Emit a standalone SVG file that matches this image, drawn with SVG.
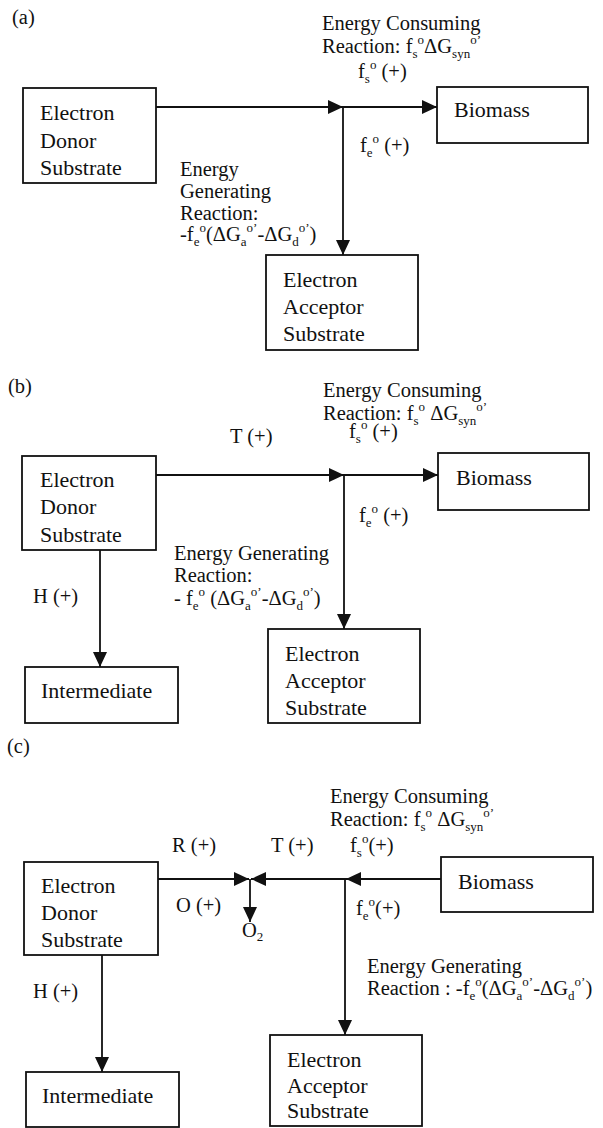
<svg xmlns="http://www.w3.org/2000/svg" width="603" height="1128" viewBox="0 0 603 1128">
<style>
text{font-family:"Liberation Serif","Times New Roman",serif;fill:#111}
.lb{font-size:22px}
.an{font-size:20.5px}
.s{font-size:13px}
.box{fill:#fff;stroke:#111;stroke-width:1.8}
.ln{stroke:#111;stroke-width:1.8;fill:none}
</style>
<defs>
<marker id="ah" markerUnits="userSpaceOnUse" markerWidth="16" markerHeight="15" refX="15" refY="7" orient="auto" viewBox="0 0 16 14">
<path d="M0,0 L15,7 L0,14 z" fill="#111"/>
</marker>
</defs>
<rect width="603" height="1128" fill="#fff"/>

<!-- connectors -->
<g id="connectors">
<!-- (a) -->
<line class="ln" x1="156" y1="107" x2="343" y2="107" marker-end="url(#ah)"/>
<line class="ln" x1="343" y1="107" x2="437" y2="107" marker-end="url(#ah)"/>
<line class="ln" x1="343" y1="107" x2="343" y2="255" marker-end="url(#ah)"/>
<!-- (b) -->
<line class="ln" x1="156" y1="475" x2="344" y2="475" marker-end="url(#ah)"/>
<line class="ln" x1="344" y1="475" x2="438" y2="475" marker-end="url(#ah)"/>
<line class="ln" x1="344" y1="475" x2="344" y2="629" marker-end="url(#ah)"/>
<line class="ln" x1="100" y1="550" x2="100" y2="667" marker-end="url(#ah)"/>
<!-- (c) -->
<line class="ln" x1="158" y1="879" x2="249" y2="879" marker-end="url(#ah)"/>
<line class="ln" x1="441" y1="879" x2="346" y2="879" marker-end="url(#ah)"/>
<line class="ln" x1="346" y1="879" x2="251" y2="879" marker-end="url(#ah)"/>
<line class="ln" x1="250" y1="879" x2="250" y2="922" marker-end="url(#ah)"/>
<line class="ln" x1="345" y1="879" x2="345" y2="1035" marker-end="url(#ah)"/>
<line class="ln" x1="102" y1="955" x2="102" y2="1072" marker-end="url(#ah)"/>
</g>

<!-- panel labels -->
<text class="an" x="12" y="24">(a)</text>
<text class="an" x="8" y="393">(b)</text>
<text class="an" x="7" y="753">(c)</text>

<!-- (a) nodes -->
<g id="a-donor">
<rect class="box" x="23" y="88" width="133" height="95"/>
<text class="lb" x="40" y="120">Electron</text>
<text class="lb" x="40" y="148">Donor</text>
<text class="lb" x="40" y="175">Substrate</text>
</g>
<g id="a-biomass">
<rect class="box" x="437" y="87" width="151" height="56"/>
<text class="lb" x="454" y="117">Biomass</text>
</g>
<g id="a-acceptor">
<rect class="box" x="266" y="255" width="152" height="95"/>
<text class="lb" x="283" y="287">Electron</text>
<text class="lb" x="283" y="314">Acceptor</text>
<text class="lb" x="283" y="341">Substrate</text>
</g>
<g id="a-labels">
<text class="an" x="322" y="30">Energy Consuming</text>
<text class="an" x="322" y="53">Reaction: f<tspan class="s" dy="5">s</tspan><tspan class="s" dy="-14">o</tspan><tspan dy="9">ΔG</tspan><tspan class="s" dy="5">syn</tspan><tspan class="s" dy="-14">o’</tspan></text>
<text class="an" x="358" y="78">f<tspan class="s" dy="5">s</tspan><tspan class="s" dy="-14">o</tspan><tspan dy="9"> (+)</tspan></text>
<text class="an" x="360" y="152">f<tspan class="s" dy="5">e</tspan><tspan class="s" dy="-14">o</tspan><tspan dy="9"> (+)</tspan></text>
<text class="an" x="180" y="176">Energy</text>
<text class="an" x="180" y="198">Generating</text>
<text class="an" x="180" y="220">Reaction:</text>
<text class="an" x="180" y="241">-f<tspan class="s" dy="5">e</tspan><tspan class="s" dy="-14">o</tspan><tspan dy="9">(ΔG</tspan><tspan class="s" dy="5">a</tspan><tspan class="s" dy="-14">o’</tspan><tspan dy="9">-ΔG</tspan><tspan class="s" dy="5">d</tspan><tspan class="s" dy="-14">o’</tspan><tspan dy="9">)</tspan></text>
</g>

<!-- (b) nodes -->
<g id="b-donor">
<rect class="box" x="22" y="456" width="134" height="94"/>
<text class="lb" x="40" y="487">Electron</text>
<text class="lb" x="40" y="514">Donor</text>
<text class="lb" x="40" y="542">Substrate</text>
</g>
<g id="b-biomass">
<rect class="box" x="438" y="453" width="151" height="57"/>
<text class="lb" x="456" y="485">Biomass</text>
</g>
<g id="b-acceptor">
<rect class="box" x="268" y="629" width="152" height="94"/>
<text class="lb" x="285" y="661">Electron</text>
<text class="lb" x="285" y="688">Acceptor</text>
<text class="lb" x="285" y="715">Substrate</text>
</g>
<g id="b-intermediate">
<rect class="box" x="25" y="667" width="153" height="56"/>
<text class="lb" x="41" y="698">Intermediate</text>
</g>
<g id="b-labels">
<text class="an" x="323" y="397">Energy Consuming</text>
<text class="an" x="323" y="420">Reaction: f<tspan class="s" dy="5">s</tspan><tspan class="s" dy="-14">o</tspan><tspan dy="9"> ΔG</tspan><tspan class="s" dy="5">syn</tspan><tspan class="s" dy="-14">o’</tspan></text>
<text class="an" x="230" y="443">T (+)</text>
<text class="an" x="349" y="438">f<tspan class="s" dy="5">s</tspan><tspan class="s" dy="-14">o</tspan><tspan dy="9"> (+)</tspan></text>
<text class="an" x="359" y="522">f<tspan class="s" dy="5">e</tspan><tspan class="s" dy="-14">o</tspan><tspan dy="9"> (+)</tspan></text>
<text class="an" x="174" y="560">Energy Generating</text>
<text class="an" x="174" y="582">Reaction:</text>
<text class="an" x="174" y="605">- f<tspan class="s" dy="5">e</tspan><tspan class="s" dy="-14">o</tspan><tspan dy="9"> (ΔG</tspan><tspan class="s" dy="5">a</tspan><tspan class="s" dy="-14">o’</tspan><tspan dy="9">-ΔG</tspan><tspan class="s" dy="5">d</tspan><tspan class="s" dy="-14">o’</tspan><tspan dy="9">)</tspan></text>
<text class="an" x="33" y="603">H (+)</text>
</g>

<!-- (c) nodes -->
<g id="c-donor">
<rect class="box" x="24" y="862" width="134" height="93"/>
<text class="lb" x="41" y="893">Electron</text>
<text class="lb" x="41" y="920">Donor</text>
<text class="lb" x="41" y="947">Substrate</text>
</g>
<g id="c-biomass">
<rect class="box" x="441" y="857" width="152" height="55"/>
<text class="lb" x="458" y="889">Biomass</text>
</g>
<g id="c-acceptor">
<rect class="box" x="270" y="1035" width="152" height="91"/>
<text class="lb" x="287" y="1067">Electron</text>
<text class="lb" x="287" y="1093">Acceptor</text>
<text class="lb" x="287" y="1118">Substrate</text>
</g>
<g id="c-intermediate">
<rect class="box" x="26" y="1072" width="153" height="55"/>
<text class="lb" x="42" y="1103">Intermediate</text>
</g>
<g id="c-o2">
<text class="an" x="242" y="937">O<tspan class="s" dy="4">2</tspan></text>
</g>
<g id="c-labels">
<text class="an" x="330" y="803">Energy Consuming</text>
<text class="an" x="330" y="826">Reaction: f<tspan class="s" dy="5">s</tspan><tspan class="s" dy="-14">o</tspan><tspan dy="9"> ΔG</tspan><tspan class="s" dy="5">syn</tspan><tspan class="s" dy="-14">o’</tspan></text>
<text class="an" x="172" y="852">R (+)</text>
<text class="an" x="271" y="852">T (+)</text>
<text class="an" x="350" y="852">f<tspan class="s" dy="5">s</tspan><tspan class="s" dy="-14">o</tspan><tspan dy="9">(+)</tspan></text>
<text class="an" x="176" y="912">O (+)</text>
<text class="an" x="356" y="915">f<tspan class="s" dy="5">e</tspan><tspan class="s" dy="-14">o</tspan><tspan dy="9">(+)</tspan></text>
<text class="an" x="367" y="973">Energy Generating</text>
<text class="an" x="367" y="995">Reaction : -f<tspan class="s" dy="5">e</tspan><tspan class="s" dy="-14">o</tspan><tspan dy="9">(ΔG</tspan><tspan class="s" dy="5">a</tspan><tspan class="s" dy="-14">o’</tspan><tspan dy="9">-ΔG</tspan><tspan class="s" dy="5">d</tspan><tspan class="s" dy="-14">o’</tspan><tspan dy="9">)</tspan></text>
<text class="an" x="33" y="998">H (+)</text>
</g>
</svg>
